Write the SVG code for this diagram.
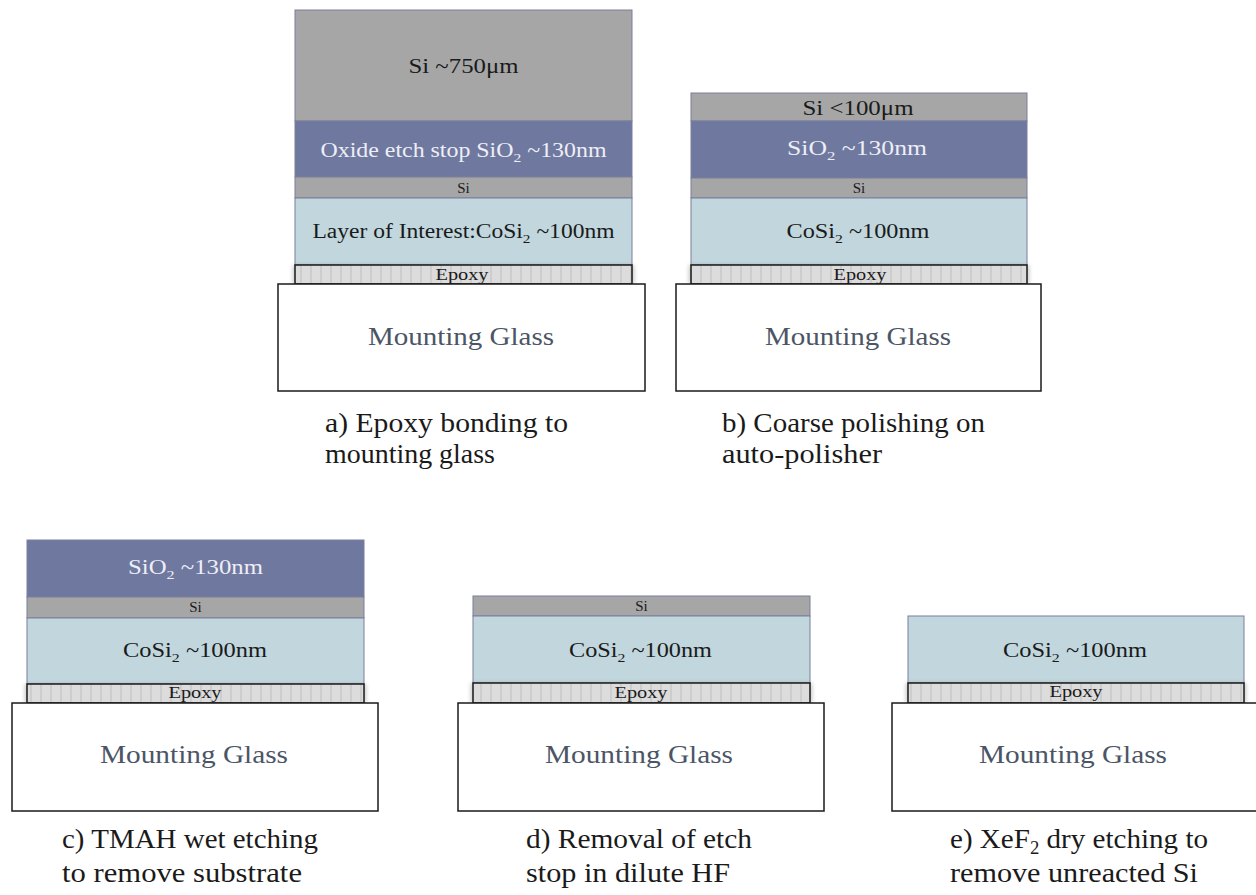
<svg xmlns="http://www.w3.org/2000/svg" width="1256" height="895" viewBox="0 0 1256 895" font-family="'Liberation Serif', 'DejaVu Serif', serif">
<defs>
<pattern id="epx" patternUnits="userSpaceOnUse" width="10" height="20">
<rect width="10" height="20" fill="#dcdcdc"/>
<rect x="0" width="2" height="20" fill="#cdcdcd"/>
</pattern>
<filter id="sh" x="-10%" y="-50%" width="120%" height="200%">
<feGaussianBlur stdDeviation="2"/>
</filter>
<style>
.si{fill:#a6a6a6;stroke:#7a7f9c;stroke-width:1}
.ox{fill:#6f789f;stroke:#7a7f9c;stroke-width:1}
.co{fill:#c1d6dd;stroke:#7a7f9c;stroke-width:1}
.ep{fill:url(#epx);stroke:#1a1a1a;stroke-width:1.5}
.eps{fill:#8a8a8a;opacity:0.5}
.gl{fill:#ffffff;stroke:#1a1a1a;stroke-width:1.5}
.t,.tw,.ts,.te,.mg,.cap{font-family:'Liberation Serif','DejaVu Serif',serif}
.t{font-size:20px;fill:#1a1a1a;text-anchor:middle}
.tw{font-size:20px;fill:#eeeef6;text-anchor:middle}
.ts{font-size:15px;fill:#1a1a1a;text-anchor:middle}
.te{font-size:16px;fill:#1a1a1a;text-anchor:middle}
.mg{font-size:26px;fill:#4b5566;text-anchor:middle}
.cap{font-size:28px;fill:#1a1a1a}
</style>
</defs>
<rect width="1256" height="895" fill="#ffffff"/>

<g id="panel-a">
<rect class="si" x="295" y="10" width="337" height="111"/>
<rect class="ox" x="295" y="121" width="337" height="56"/>
<rect class="si" x="295" y="177" width="337" height="21"/>
<rect class="co" x="295" y="198" width="337" height="67"/>
<rect class="eps" x="293" y="265" width="341" height="19" filter="url(#sh)"/>
<rect class="ep" x="295" y="265" width="337" height="19"/>
<rect class="gl" x="278" y="284" width="367" height="107"/>
<text class="t" x="463.5" y="73" textLength="110" lengthAdjust="spacingAndGlyphs">Si ~750μm</text>
<text class="tw" x="463.5" y="157" textLength="286" lengthAdjust="spacingAndGlyphs">Oxide etch stop SiO<tspan font-size="13" dy="5">2</tspan><tspan dy="-5"> ~130nm</tspan></text>
<text class="ts" x="463.5" y="193">Si</text>
<text class="t" x="463.5" y="238" textLength="302" lengthAdjust="spacingAndGlyphs">Layer of Interest:CoSi<tspan font-size="13" dy="5">2</tspan><tspan dy="-5"> ~100nm</tspan></text>
<text class="te" x="462" y="280" textLength="53" lengthAdjust="spacingAndGlyphs">Epoxy</text>
<text class="mg" x="461" y="345" textLength="186" lengthAdjust="spacingAndGlyphs">Mounting Glass</text>
<text class="cap" x="325" y="432" textLength="243" lengthAdjust="spacingAndGlyphs">a) Epoxy bonding to</text>
<text class="cap" x="325" y="463" textLength="170" lengthAdjust="spacingAndGlyphs">mounting glass</text>
</g>

<g id="panel-b">
<rect class="si" x="691" y="93" width="336" height="28"/>
<rect class="ox" x="691" y="121" width="336" height="57"/>
<rect class="si" x="691" y="178" width="336" height="20"/>
<rect class="co" x="691" y="198" width="336" height="67"/>
<rect class="eps" x="689" y="265" width="340" height="19" filter="url(#sh)"/>
<rect class="ep" x="691" y="265" width="336" height="19"/>
<rect class="gl" x="676" y="284" width="365" height="107"/>
<text class="t" x="858" y="115" textLength="111" lengthAdjust="spacingAndGlyphs">Si &lt;100μm</text>
<text class="tw" x="857" y="155" textLength="140" lengthAdjust="spacingAndGlyphs">SiO<tspan font-size="13" dy="5">2</tspan><tspan dy="-5"> ~130nm</tspan></text>
<text class="ts" x="859" y="193">Si</text>
<text class="t" x="858" y="238" textLength="143" lengthAdjust="spacingAndGlyphs">CoSi<tspan font-size="13" dy="5">2</tspan><tspan dy="-5"> ~100nm</tspan></text>
<text class="te" x="860" y="280" textLength="53" lengthAdjust="spacingAndGlyphs">Epoxy</text>
<text class="mg" x="858" y="345" textLength="186" lengthAdjust="spacingAndGlyphs">Mounting Glass</text>
<text class="cap" x="722" y="432" textLength="263" lengthAdjust="spacingAndGlyphs">b) Coarse polishing on</text>
<text class="cap" x="722" y="463" textLength="160" lengthAdjust="spacingAndGlyphs">auto-polisher</text>
</g>

<g id="panel-c">
<rect class="ox" x="27" y="540" width="337" height="57"/>
<rect class="si" x="27" y="597" width="337" height="21"/>
<rect class="co" x="27" y="618" width="337" height="66"/>
<rect class="eps" x="25" y="684" width="341" height="19" filter="url(#sh)"/>
<rect class="ep" x="27" y="684" width="337" height="19"/>
<rect class="gl" x="12" y="703" width="366" height="108"/>
<text class="tw" x="195.5" y="574" textLength="135" lengthAdjust="spacingAndGlyphs">SiO<tspan font-size="13" dy="5">2</tspan><tspan dy="-5"> ~130nm</tspan></text>
<text class="ts" x="195.5" y="612">Si</text>
<text class="t" x="195" y="657" textLength="144" lengthAdjust="spacingAndGlyphs">CoSi<tspan font-size="13" dy="5">2</tspan><tspan dy="-5"> ~100nm</tspan></text>
<text class="te" x="195" y="698" textLength="53" lengthAdjust="spacingAndGlyphs">Epoxy</text>
<text class="mg" x="194" y="763" textLength="188" lengthAdjust="spacingAndGlyphs">Mounting Glass</text>
<text class="cap" x="62" y="848" textLength="256" lengthAdjust="spacingAndGlyphs">c) TMAH wet etching</text>
<text class="cap" x="62" y="882" textLength="240" lengthAdjust="spacingAndGlyphs">to remove substrate</text>
</g>

<g id="panel-d">
<rect class="si" x="473" y="596" width="337" height="20"/>
<rect class="co" x="473" y="616" width="337" height="67"/>
<rect class="eps" x="471" y="683" width="341" height="20" filter="url(#sh)"/>
<rect class="ep" x="473" y="683" width="337" height="20"/>
<rect class="gl" x="458" y="703" width="366" height="108"/>
<text class="ts" x="641.5" y="611">Si</text>
<text class="t" x="640.5" y="657" textLength="143" lengthAdjust="spacingAndGlyphs">CoSi<tspan font-size="13" dy="5">2</tspan><tspan dy="-5"> ~100nm</tspan></text>
<text class="te" x="641" y="698" textLength="53" lengthAdjust="spacingAndGlyphs">Epoxy</text>
<text class="mg" x="639" y="763" textLength="188" lengthAdjust="spacingAndGlyphs">Mounting Glass</text>
<text class="cap" x="526" y="848" textLength="226" lengthAdjust="spacingAndGlyphs">d) Removal of etch</text>
<text class="cap" x="526" y="882" textLength="204" lengthAdjust="spacingAndGlyphs">stop in dilute HF</text>
</g>

<g id="panel-e">
<rect class="co" x="908" y="616" width="336" height="67"/>
<rect class="eps" x="906" y="683" width="340" height="20" filter="url(#sh)"/>
<rect class="ep" x="908" y="683" width="336" height="20"/>
<rect class="gl" x="892" y="703" width="366" height="108"/>
<text class="t" x="1075" y="657" textLength="144" lengthAdjust="spacingAndGlyphs">CoSi<tspan font-size="13" dy="5">2</tspan><tspan dy="-5"> ~100nm</tspan></text>
<text class="te" x="1076" y="697" textLength="53" lengthAdjust="spacingAndGlyphs">Epoxy</text>
<text class="mg" x="1073" y="763" textLength="188" lengthAdjust="spacingAndGlyphs">Mounting Glass</text>
<text class="cap" x="950" y="848" textLength="258" lengthAdjust="spacingAndGlyphs">e) XeF<tspan font-size="18" dy="6">2</tspan><tspan dy="-6"> dry etching to</tspan></text>
<text class="cap" x="950" y="882" textLength="248" lengthAdjust="spacingAndGlyphs">remove unreacted Si</text>
</g>
</svg>
